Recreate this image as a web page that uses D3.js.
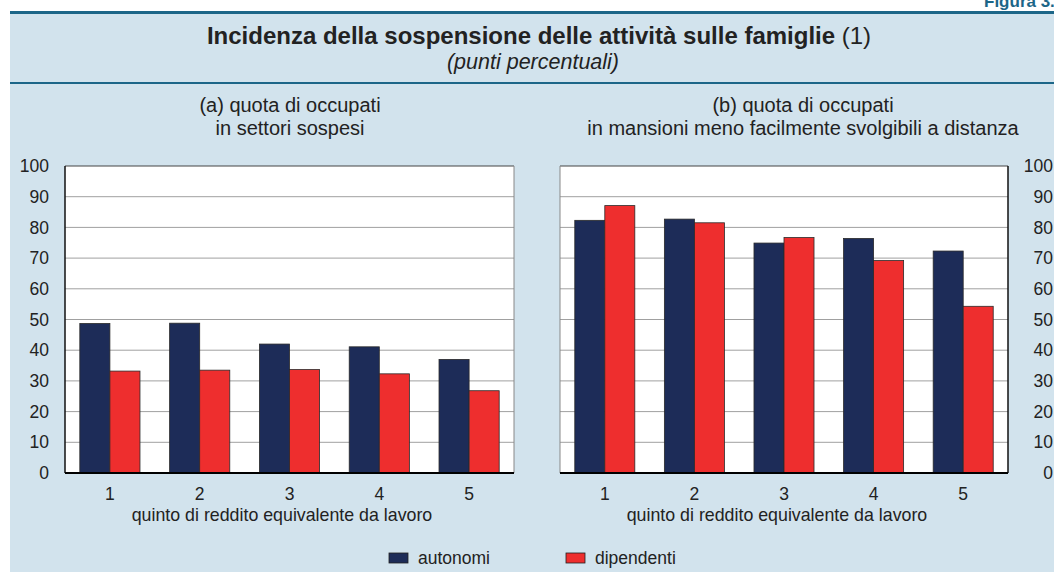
<!DOCTYPE html>
<html>
<head>
<meta charset="utf-8">
<script src="https://cdn.jsdelivr.net/npm/d3@7"></script>
<style>
  body { margin: 0; background: #fff; }
  svg { display: block; font-family: "Liberation Sans", Arial, sans-serif; }
</style>
</head>
<body>
<svg id="chart" width="1054" height="572"></svg>
<script>
// data
const quintiles = ["1", "2", "3", "4", "5"];
const series = ["autonomi", "dipendenti"];
const settoriAutonomi = [48.7, 48.8, 42.0, 41.1, 37.0];
const settoriDipendenti = [33.2, 33.5, 33.7, 32.3, 26.8];
const mansioniAutonomi = [82.3, 82.7, 74.9, 76.4, 72.3];
const mansioniDipendenti = [87.1, 81.5, 76.7, 69.2, 54.3];
const yTicks = [0, 10, 20, 30, 40, 50, 60, 70, 80, 90, 100];

const colors = { autonomi: "#1d2c58", dipendenti: "#ee2e2e" };

const svg = d3.select("#chart");

// background panel and rules
svg.append("rect").attr("x", 10).attr("y", 12).attr("width", 1044).attr("height", 560).attr("fill", "#d2e3ed");
svg.append("rect").attr("x", 10).attr("y", 11).attr("width", 1044).attr("height", 3).attr("fill", "#1c6688");
svg.append("rect").attr("x", 10).attr("y", 82).attr("width", 1044).attr("height", 2).attr("fill", "#1c6688");

svg.append("text")
    .attr("x", 984).attr("y", 7)
    .attr("font-size", 17).attr("font-weight", "bold")
    .attr("fill", "#1c6688")
    .text("Figura 3.");

const title = svg.append("text")
    .attr("x", 539).attr("y", 44)
    .attr("text-anchor", "middle")
    .attr("font-size", 24)
    .attr("fill", "#222");
title.append("tspan").attr("font-weight", "bold").text("Incidenza della sospensione delle attività sulle famiglie ");
title.append("tspan").text("(1)");

svg.append("text")
    .attr("x", 533).attr("y", 69)
    .attr("text-anchor", "middle")
    .attr("font-size", 21.5).attr("font-style", "italic")
    .attr("fill", "#222")
    .text("(punti percentuali)");

const y = d3.scaleLinear().domain([0, 100]).range([473, 166]);

function panel(opts) {
    const g = svg.append("g");
    const { left, right, vals1, vals2, sub, subX, axisSide, axisTitleX } = opts;

    // plot background
    g.append("rect")
        .attr("x", left).attr("y", y(100))
        .attr("width", right - left).attr("height", y(0) - y(100))
        .attr("fill", "#fff");

    // gridlines
    g.selectAll("line.grid")
        .data(yTicks.filter(t => t > 0 && t < 100))
        .enter().append("line")
        .attr("class", "grid")
        .attr("x1", left).attr("x2", right)
        .attr("y1", d => y(d)).attr("y2", d => y(d))
        .attr("stroke", "#a0a0a0").attr("stroke-width", 1);

    // frame
    g.append("line").attr("x1", left).attr("x2", right).attr("y1", y(100)).attr("y2", y(100))
        .attr("stroke", "#444").attr("stroke-width", 1);
    g.append("line").attr("x1", left).attr("x2", left).attr("y1", y(100)).attr("y2", y(0))
        .attr("stroke", axisSide === "left" ? "#111" : "#888").attr("stroke-width", axisSide === "left" ? 1.5 : 1);
    g.append("line").attr("x1", right).attr("x2", right).attr("y1", y(100)).attr("y2", y(0))
        .attr("stroke", axisSide === "right" ? "#111" : "#888").attr("stroke-width", axisSide === "right" ? 1.5 : 1);

    const x0 = d3.scaleBand().domain(quintiles).range([left, right]).paddingInner(0.33).paddingOuter(0.165);
    const x1 = d3.scaleBand().domain(series).range([0, x0.bandwidth()]);

    const rows = quintiles.map((q, i) => ({ q, autonomi: vals1[i], dipendenti: vals2[i] }));

    g.selectAll("g.grp")
        .data(rows)
        .enter().append("g")
        .attr("class", "grp")
        .attr("transform", d => `translate(${x0(d.q)},0)`)
        .selectAll("rect")
        .data(d => series.map(s => ({ s, v: d[s] })))
        .enter().append("rect")
        .attr("x", d => x1(d.s))
        .attr("y", d => y(d.v))
        .attr("width", x1.bandwidth())
        .attr("height", d => y(0) - y(d.v))
        .attr("fill", d => colors[d.s])
        .attr("stroke", "#2a2a2a").attr("stroke-width", 0.8);

    // bottom axis line
    g.append("line").attr("x1", left).attr("x2", right).attr("y1", y(0)).attr("y2", y(0))
        .attr("stroke", "#000").attr("stroke-width", 2);

    // x tick labels
    g.selectAll("text.xt")
        .data(quintiles)
        .enter().append("text")
        .attr("class", "xt")
        .attr("x", d => x0(d) + x0.bandwidth() / 2)
        .attr("y", 500)
        .attr("text-anchor", "middle")
        .attr("font-size", 17.5).attr("fill", "#222")
        .text(d => d);

    g.append("text")
        .attr("x", axisTitleX).attr("y", 521)
        .attr("text-anchor", "middle")
        .attr("font-size", 17.8).attr("fill", "#222")
        .text("quinto di reddito equivalente da lavoro");

    // y axis labels
    const axis = axisSide === "left"
        ? d3.axisLeft(y).tickValues(yTicks).tickSize(0).tickPadding(16)
        : d3.axisRight(y).tickValues(yTicks).tickSize(0).tickPadding(0);
    const ag = g.append("g")
        .attr("transform", `translate(${axisSide === "left" ? left : 1053},0)`)
        .call(axis);
    ag.select(".domain").remove();
    ag.selectAll("text")
        .attr("font-size", 17.5).attr("fill", "#222")
        .attr("font-family", "Liberation Sans, Arial, sans-serif")
        .attr("text-anchor", "end");

    // subtitle
    const st = g.append("text")
        .attr("text-anchor", "middle")
        .attr("font-size", 20).attr("fill", "#222");
    sub.forEach((line, i) => {
        st.append("tspan").attr("x", subX).attr("y", 112 + i * 23).text(line);
    });
}

panel({
    left: 65, right: 514,
    vals1: settoriAutonomi, vals2: settoriDipendenti,
    sub: ["(a) quota di occupati", "in settori sospesi"],
    subX: 290, axisSide: "left", axisTitleX: 282
});

panel({
    left: 560, right: 1008,
    vals1: mansioniAutonomi, vals2: mansioniDipendenti,
    sub: ["(b) quota di occupati", "in mansioni meno facilmente svolgibili a distanza"],
    subX: 803, axisSide: "right", axisTitleX: 777
});

// legend
const legend = svg.append("g");
const legendX = [389, 566];
series.forEach((s, i) => {
    legend.append("rect")
        .attr("x", legendX[i]).attr("y", 553)
        .attr("width", 19).attr("height", 10)
        .attr("fill", colors[s]).attr("stroke", "#222").attr("stroke-width", 0.8);
    legend.append("text")
        .attr("x", legendX[i] + 29).attr("y", 564)
        .attr("font-size", 17.5).attr("fill", "#222")
        .text(s);
});
</script>
</body>
</html>
